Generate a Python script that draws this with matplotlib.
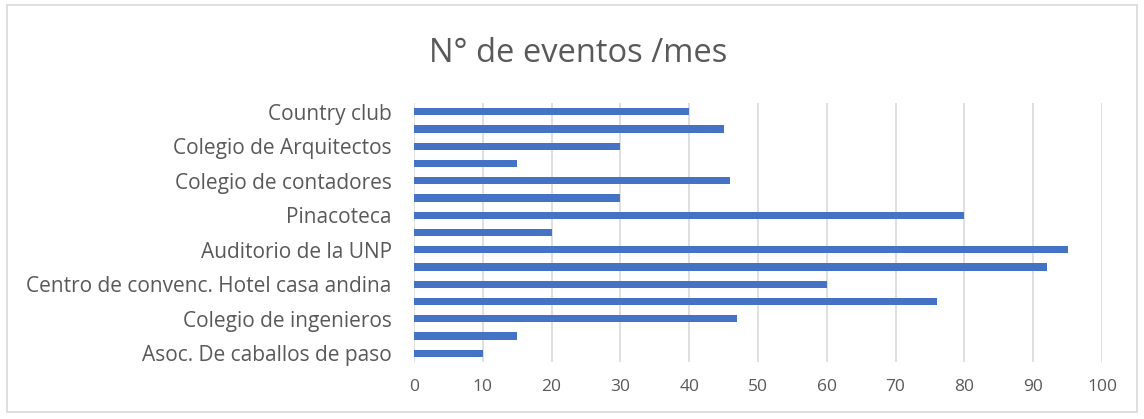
import numpy as np
import matplotlib.pyplot as plt

# categorias de abajo hacia arriba (Excel solo muestra una de cada dos)
categorias = ['Asoc. De caballos de paso', '', 'Colegio de ingenieros', '',
              'Centro de convenc. Hotel casa andina', '', 'Auditorio de la UNP', '',
              'Pinacoteca', '', 'Colegio de contadores', '',
              'Colegio de Arquitectos', '', 'Country club']
eventos = [10, 15, 47, 76, 60, 92, 95, 20, 80, 30, 46, 15, 30, 45, 40]
ticks_x = [0, 10, 20, 30, 40, 50, 60, 70, 80, 90, 100]

plt.rcParams['font.family'] = ['Open Sans', 'DejaVu Sans']

fig = plt.figure(figsize=(11.44, 4.19), dpi=100)
ax = fig.add_axes([0.3619, 0.136, 0.6014, 0.618])

y = np.arange(len(categorias))
ax.barh(y, eventos, height=0.42, color='#4472C4', zorder=3)

ax.set_xlim(0, 100)
ax.set_ylim(-0.5, len(categorias) - 0.5)
ax.set_xticks(ticks_x)
ax.set_yticks(y)
ax.set_yticklabels(categorias)
ax.grid(axis='x', color='#D9D9D9', linewidth=1.2, zorder=0)
for s in ax.spines.values():
    s.set_visible(False)
ax.tick_params(length=0, colors='#595959')
ax.tick_params(axis='y', labelsize=15, pad=16)
ax.tick_params(axis='x', labelsize=12.5, pad=12)

fig.text(0.505, 0.872, 'N° de eventos /mes', ha='center', va='center',
         fontsize=23.5, color='#595959')

# borde del grafico
borde = plt.Rectangle((0.006, 0.016), 0.988, 0.972, transform=fig.transFigure,
                      fill=False, edgecolor='#D9D9D9', linewidth=1.2)
fig.patches.append(borde)

fig.savefig('out.png', dpi=100)
